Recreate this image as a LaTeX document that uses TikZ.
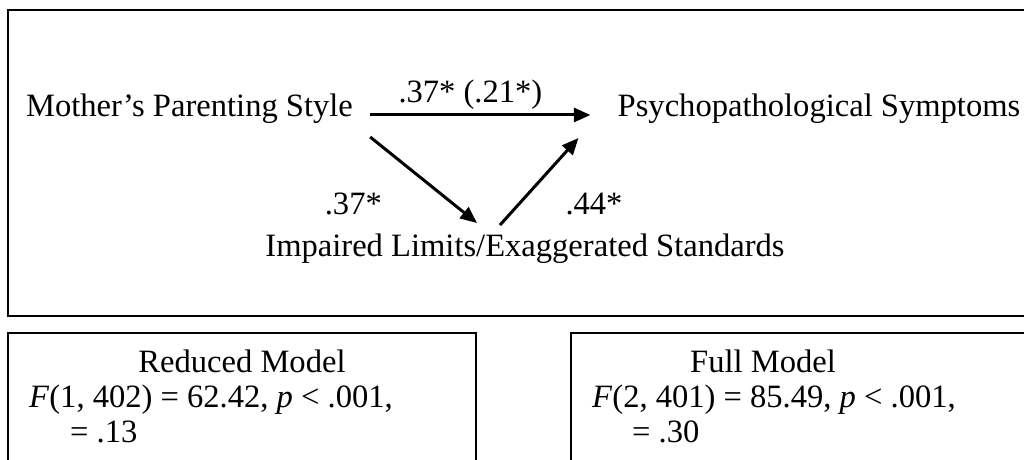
\documentclass[tikz,border=0pt]{standalone}
\usepackage{fontspec}
\setmainfont{Liberation Serif}
\usetikzlibrary{arrows.meta,positioning}

\begin{document}
\begin{tikzpicture}[>={Triangle[length=0.5cm,width=0.42cm]},
   every node/.style={font=\fontsize{27.8}{31}\selectfont, inner sep=0},
   frame/.style={line width=0.06cm},
   link/.style={line width=0.09cm}]
   \path[use as bounding box] (0,0) rectangle (30.72,13.77);
   \clip (0,0) rectangle (30.72,13.77);
   \draw[frame] (0.24,4.29) rectangle (31.5,13.47);
   \draw[frame] (0.24,-0.5) rectangle (14.28,3.78);
   \draw[frame] (17.13,-0.5) rectangle (31.5,3.78);

   \node[anchor=base] (mother) at (5.685,10.26) {Mother’s Parenting Style};
   \node[anchor=base] (symptoms) at (24.57,10.26) {Psychopathological Symptoms};
   \node[anchor=base] (limits) at (15.75,6.06) {Impaired Limits/Exaggerated Standards};

    \path[->, link]
    ([xshift=0.51cm,yshift=0.06cm]mother.base east) edge
          node[pos=0.455, anchor=base, yshift=0.36cm] (direct) {.37* (.21*)}
          ([xshift=-0.81cm,yshift=0.06cm]symptoms.base west)
    ([xshift=0.51cm,yshift=-0.6cm]mother.base east) edge ([xshift=-1.44cm,yshift=1.02cm]limits.base)
    ([xshift=-0.75cm,yshift=0.96cm]limits.base) edge ([xshift=-1.17cm,yshift=-0.63cm]symptoms.base west);
   \node[anchor=base] (a_path) at (10.6,7.32) {.37*};
   \node[anchor=base] (b_path) at (17.82,7.32) {.44*};

%  model statistics
   \node[anchor=base] (reduced) at (7.26,2.58) {Reduced Model};
   \node[anchor=base west] (reduced_f) at (0.87,1.56) {\textit{F}(1, 402) = 62.42, \textit{p} < .001,};
   \node[anchor=base west] (reduced_r) at (2.1,0.51) {= .13};
   \node[anchor=base] (full) at (22.89,2.58) {Full Model};
   \node[anchor=base west] (full_f) at (17.76,1.56) {\textit{F}(2, 401) = 85.49, \textit{p} < .001,};
   \node[anchor=base west] (full_r) at (18.96,0.51) {= .30};
\end{tikzpicture}
\end{document}
